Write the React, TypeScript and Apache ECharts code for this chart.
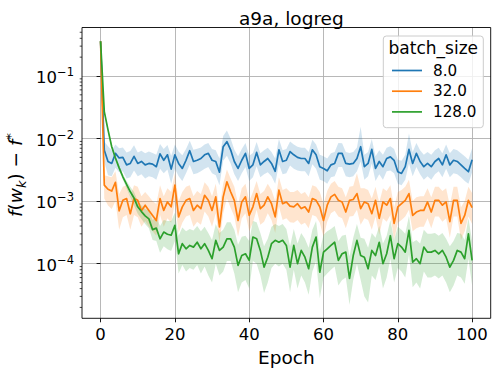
import { useEffect, useRef } from "react";
import * as echarts from "echarts";

const epochs: number[] = Array.from({ length: 101 }, (_, i) => i);

const seriesNames = ["8.0", "32.0", "128.0"];
const xTicks = [0, 20, 40, 60, 80, 100];
const yTicks = [1e-4, 1e-3, 1e-2, 1e-1];
const yMinorTicks = [
  2e-5, 3e-5, 4e-5, 5e-5, 6e-5, 7e-5, 8e-5, 9e-5,
  2e-4, 3e-4, 4e-4, 5e-4, 6e-4, 7e-4, 8e-4, 9e-4,
  2e-3, 3e-3, 4e-3, 5e-3, 6e-3, 7e-3, 8e-3, 9e-3,
  2e-2, 3e-2, 4e-2, 5e-2, 6e-2, 7e-2, 8e-2, 9e-2,
  2e-1, 3e-1, 4e-1, 5e-1,
];

const blue = [
  0.36, 6.5e-3, 4.3e-3, 4.0e-3, 5.8e-3, 4.9e-3, 5.0e-3, 3.8e-3, 4.0e-3, 5.2e-3,
  4.0e-3, 4.3e-3, 3.8e-3, 4.0e-3, 3.9e-3, 3.55e-3, 5.7e-3, 4.5e-3, 5.5e-3, 3.25e-3,
  5.5e-3, 4.0e-3, 3.33e-3, 4.5e-3, 6.4e-3, 4.3e-3, 4.5e-3, 4.8e-3, 5.5e-3, 5.8e-3,
  4.5e-3, 4.3e-3, 2.9e-3, 7.4e-3, 8.9e-3, 6.6e-3, 4.3e-3, 3.33e-3, 4.5e-3, 5.8e-3,
  3.33e-3, 3.8e-3, 6.0e-3, 3.8e-3, 4.3e-3, 4.8e-3, 4.0e-3, 3.0e-3, 6.6e-3, 4.3e-3,
  4.5e-3, 6.2e-3, 5.5e-3, 5.0e-3, 4.8e-3, 4.8e-3, 4.0e-3, 6.6e-3, 5.5e-3, 3.55e-3,
  3.33e-3, 3.05e-3, 3.8e-3, 4.0e-3, 5.8e-3, 5.8e-3, 4.0e-3, 3.9e-3, 4.0e-3, 4.8e-3,
  7.4e-3, 3.55e-3, 4.0e-3, 6.7e-3, 3.33e-3, 4.3e-3, 3.55e-3, 4.8e-3, 5.1e-3, 4.5e-3,
  2.95e-3, 2.77e-3, 3.55e-3, 6.7e-3, 4.0e-3, 5.8e-3, 4.3e-3, 3.55e-3, 4.0e-3, 3.55e-3,
  4.3e-3, 4.8e-3, 3.8e-3, 5.5e-3, 3.8e-3, 4.5e-3, 4.3e-3, 3.8e-3, 3.33e-3, 2.95e-3,
  4.6e-3,
];
const blueHi = [
  0.37, 9.0e-3, 7.5e-3, 6.5e-3, 8.0e-3, 7.0e-3, 7.2e-3, 6.0e-3, 6.3e-3, 7.8e-3,
  6.0e-3, 6.4e-3, 5.8e-3, 6.2e-3, 5.9e-3, 5.5e-3, 8.2e-3, 6.8e-3, 7.9e-3, 5.3e-3,
  8.0e-3, 6.2e-3, 5.4e-3, 6.8e-3, 9.2e-3, 6.6e-3, 6.9e-3, 7.2e-3, 8.0e-3, 8.5e-3,
  6.8e-3, 6.5e-3, 4.8e-3, 1.1e-2, 1.35e-2, 1.0e-2, 6.6e-3, 5.2e-3, 6.8e-3, 8.5e-3,
  5.3e-3, 5.9e-3, 8.8e-3, 5.8e-3, 6.5e-3, 7.1e-3, 6.1e-3, 4.8e-3, 9.8e-3, 6.5e-3,
  6.8e-3, 9.0e-3, 8.0e-3, 7.4e-3, 7.1e-3, 7.1e-3, 6.1e-3, 9.6e-3, 8.0e-3, 5.5e-3,
  5.2e-3, 4.8e-3, 5.8e-3, 6.1e-3, 8.5e-3, 8.4e-3, 6.1e-3, 5.9e-3, 6.1e-3, 7.2e-3,
  1.55e-2, 5.5e-3, 6.1e-3, 9.8e-3, 5.2e-3, 6.5e-3, 5.5e-3, 7.1e-3, 7.5e-3, 6.8e-3,
  4.6e-3, 4.4e-3, 5.5e-3, 1.2e-2, 6.1e-3, 8.5e-3, 6.5e-3, 5.5e-3, 6.1e-3, 5.5e-3,
  6.5e-3, 7.1e-3, 5.8e-3, 8.0e-3, 5.8e-3, 6.8e-3, 6.5e-3, 5.8e-3, 5.2e-3, 4.6e-3,
  7.0e-3,
];
const blueLo = [
  0.35, 4.2e-3, 2.6e-3, 2.5e-3, 3.4e-3, 2.9e-3, 3.0e-3, 2.3e-3, 2.4e-3, 3.1e-3,
  2.5e-3, 2.7e-3, 2.3e-3, 2.5e-3, 2.4e-3, 2.2e-3, 3.3e-3, 2.8e-3, 3.2e-3, 1.9e-3,
  3.3e-3, 2.5e-3, 2.1e-3, 2.8e-3, 3.8e-3, 2.7e-3, 2.8e-3, 3.0e-3, 3.3e-3, 3.5e-3,
  2.8e-3, 2.6e-3, 1.8e-3, 4.4e-3, 5.3e-3, 4.0e-3, 2.7e-3, 2.1e-3, 2.8e-3, 3.5e-3,
  2.1e-3, 2.4e-3, 3.6e-3, 2.4e-3, 2.7e-3, 2.9e-3, 2.5e-3, 1.9e-3, 3.9e-3, 2.7e-3,
  2.8e-3, 3.7e-3, 3.3e-3, 3.1e-3, 3.0e-3, 3.0e-3, 2.5e-3, 3.9e-3, 3.3e-3, 2.2e-3,
  2.1e-3, 1.9e-3, 2.4e-3, 2.5e-3, 3.5e-3, 3.5e-3, 2.5e-3, 2.4e-3, 2.5e-3, 3.0e-3,
  4.3e-3, 2.2e-3, 2.5e-3, 4.0e-3, 2.1e-3, 2.7e-3, 2.2e-3, 3.0e-3, 3.1e-3, 2.8e-3,
  1.9e-3, 1.8e-3, 2.2e-3, 4.0e-3, 2.5e-3, 3.5e-3, 2.7e-3, 2.2e-3, 2.5e-3, 2.2e-3,
  2.7e-3, 3.0e-3, 2.4e-3, 3.3e-3, 2.4e-3, 2.8e-3, 2.7e-3, 2.4e-3, 2.1e-3, 1.9e-3,
  2.9e-3,
];

const orange = [
  0.36, 1.8e-3, 1.55e-3, 1.45e-3, 2.0e-3, 7.0e-4, 1.03e-3, 1.1e-3, 6.3e-4, 1.1e-3,
  1.03e-3, 7.0e-4, 8.6e-4, 7.1e-4, 5.9e-4, 4.9e-4, 1.1e-3, 7.1e-4, 9.7e-4, 8.1e-4,
  1.8e-3, 5.6e-4, 8.1e-4, 1.03e-3, 1.1e-3, 7.1e-4, 8.6e-4, 7.6e-4, 1.24e-3, 1.03e-3,
  7.1e-4, 1.17e-3, 3.86e-4, 1.17e-3, 2.04e-3, 1.41e-3, 1.03e-3, 4.9e-4, 9.7e-4, 1.17e-3,
  5.9e-4, 8.1e-4, 1.32e-3, 7.6e-4, 8.6e-4, 1.17e-3, 9.1e-4, 5.6e-4, 1.5e-3, 9.1e-4,
  9.7e-4, 8.3e-4, 8.1e-4, 9.1e-4, 7.6e-4, 8.1e-4, 6.7e-4, 1.1e-3, 1.03e-3, 8.1e-4,
  4.9e-4, 8.6e-4, 1.17e-3, 1.28e-3, 1.03e-3, 9.7e-4, 6.7e-4, 1.03e-3, 1.06e-3, 1.32e-3,
  7.6e-4, 9.7e-4, 9.1e-4, 6.3e-4, 1.03e-3, 5.3e-4, 9.7e-4, 8.6e-4, 1.1e-3, 4.4e-4,
  8.1e-4, 9.1e-4, 1.03e-3, 1.32e-3, 5.9e-4, 6.7e-4, 7.1e-4, 7.1e-4, 9.7e-4, 6.7e-4,
  1.03e-3, 1.03e-3, 8.6e-4, 9.7e-4, 4.7e-4, 1.03e-3, 1.03e-3, 4.4e-4, 5.9e-4, 1.03e-3,
  7.9e-4,
];
const orangeHi = [
  0.37, 2.6e-3, 2.5e-3, 2.4e-3, 3.0e-3, 1.3e-3, 1.7e-3, 1.8e-3, 1.2e-3, 1.8e-3,
  1.7e-3, 1.2e-3, 1.4e-3, 1.2e-3, 1.0e-3, 9.0e-4, 1.8e-3, 1.2e-3, 1.6e-3, 1.4e-3,
  2.8e-3, 1.0e-3, 1.4e-3, 1.7e-3, 1.8e-3, 1.2e-3, 1.45e-3, 1.3e-3, 2.0e-3, 1.7e-3,
  1.2e-3, 1.9e-3, 7.5e-4, 1.9e-3, 3.2e-3, 2.3e-3, 1.7e-3, 9.0e-4, 1.6e-3, 1.9e-3,
  1.0e-3, 1.4e-3, 2.1e-3, 1.3e-3, 1.45e-3, 1.9e-3, 1.5e-3, 1.0e-3, 2.4e-3, 1.5e-3,
  1.6e-3, 1.4e-3, 1.4e-3, 1.5e-3, 1.3e-3, 1.4e-3, 1.15e-3, 1.8e-3, 1.7e-3, 1.4e-3,
  9.0e-4, 1.45e-3, 1.9e-3, 2.1e-3, 1.7e-3, 1.6e-3, 1.15e-3, 1.7e-3, 1.75e-3, 2.8e-3,
  1.6e-3, 1.6e-3, 1.5e-3, 1.1e-3, 1.7e-3, 9.5e-4, 1.6e-3, 1.45e-3, 1.8e-3, 8.0e-4,
  1.4e-3, 1.5e-3, 1.7e-3, 2.2e-3, 1.0e-3, 1.15e-3, 1.2e-3, 1.2e-3, 1.6e-3, 1.15e-3,
  1.7e-3, 1.7e-3, 1.45e-3, 1.6e-3, 8.5e-4, 1.7e-3, 1.7e-3, 8.0e-4, 1.0e-3, 1.7e-3,
  1.35e-3,
];
const orangeLo = [
  0.35, 1.1e-3, 8.5e-4, 7.5e-4, 1.0e-3, 3.5e-4, 5.5e-4, 6.0e-4, 3.5e-4, 6.0e-4,
  5.5e-4, 3.9e-4, 4.8e-4, 3.9e-4, 3.3e-4, 2.8e-4, 6.0e-4, 3.9e-4, 5.3e-4, 4.5e-4,
  9.5e-4, 3.1e-4, 4.5e-4, 5.7e-4, 6.0e-4, 3.9e-4, 4.7e-4, 4.2e-4, 6.8e-4, 5.7e-4,
  3.9e-4, 6.4e-4, 2.2e-4, 6.4e-4, 1.1e-3, 7.8e-4, 5.7e-4, 2.7e-4, 5.3e-4, 6.4e-4,
  3.3e-4, 4.5e-4, 7.3e-4, 4.2e-4, 4.7e-4, 6.4e-4, 5.0e-4, 3.1e-4, 8.2e-4, 5.0e-4,
  5.3e-4, 4.6e-4, 4.5e-4, 5.0e-4, 4.2e-4, 4.5e-4, 3.7e-4, 6.0e-4, 5.7e-4, 4.5e-4,
  2.7e-4, 4.7e-4, 6.4e-4, 7.0e-4, 5.7e-4, 5.3e-4, 3.7e-4, 5.7e-4, 5.8e-4, 7.3e-4,
  4.2e-4, 5.3e-4, 5.0e-4, 3.5e-4, 5.7e-4, 2.9e-4, 5.3e-4, 4.7e-4, 6.0e-4, 2.4e-4,
  4.5e-4, 5.0e-4, 5.7e-4, 7.3e-4, 3.3e-4, 3.7e-4, 3.9e-4, 3.9e-4, 5.3e-4, 3.7e-4,
  5.7e-4, 5.7e-4, 4.7e-4, 5.3e-4, 2.6e-4, 5.7e-4, 5.7e-4, 2.4e-4, 3.3e-4, 5.7e-4,
  4.3e-4,
];

const green = [
  0.36, 2.7e-2, 1.38e-2, 7.4e-3, 4.9e-3, 3.4e-3, 2.45e-3, 1.86e-3, 1.41e-3, 1.12e-3,
  8.1e-4, 6.8e-4, 5.8e-4, 5.2e-4, 3.5e-4, 3.7e-4, 2.5e-4, 3.2e-4, 2.95e-4, 2.85e-4,
  4.1e-4, 1.44e-4, 2.09e-4, 1.73e-4, 1.96e-4, 1.84e-4, 2.2e-4, 1.73e-4, 2.09e-4, 1.63e-4,
  1.2e-4, 2.36e-4, 1.63e-4, 1.84e-4, 2.5e-4, 2.5e-4, 1.84e-4, 9.4e-5, 1.35e-4, 1.44e-4,
  1.13e-4, 2.67e-4, 2.5e-4, 1.63e-4, 8.8e-5, 1.27e-4, 2.09e-4, 2.36e-4, 2.2e-4, 2.36e-4,
  1.96e-4, 8.8e-5, 1.96e-4, 1.0e-4, 1.63e-4, 1.27e-4, 8.3e-5, 1.84e-4, 2.67e-4, 7.3e-5,
  1.53e-4, 1.73e-4, 1.96e-4, 2.2e-4, 1.13e-4, 1.44e-4, 1.53e-4, 5.8e-5, 1.35e-4, 2.36e-4,
  1.35e-4, 1.27e-4, 8.3e-5, 1.63e-4, 1.35e-4, 2.2e-4, 1.0e-4, 1.44e-4, 2.8e-4, 1.2e-4,
  2.09e-4, 1.84e-4, 1.53e-4, 3.4e-4, 1.06e-4, 1.2e-4, 1.0e-4, 1.84e-4, 1.53e-4, 1.53e-4,
  1.63e-4, 1.44e-4, 1.63e-4, 1.27e-4, 8.8e-5, 1.13e-4, 1.63e-4, 1.53e-4, 1.2e-4, 3.0e-4,
  1.13e-4,
];
const greenHi = [
  0.37, 2.9e-2, 1.5e-2, 8.0e-3, 5.3e-3, 3.7e-3, 2.7e-3, 2.1e-3, 1.7e-3, 1.4e-3,
  1.0e-3, 8.5e-4, 7.5e-4, 7.0e-4, 5.0e-4, 5.5e-4, 4.0e-4, 5.0e-4, 4.8e-4, 4.8e-4,
  6.5e-4, 2.8e-4, 3.8e-4, 3.3e-4, 3.6e-4, 3.4e-4, 4.0e-4, 3.3e-4, 3.9e-4, 3.1e-4,
  2.4e-4, 4.3e-4, 3.1e-4, 3.5e-4, 4.6e-4, 4.6e-4, 3.5e-4, 2.0e-4, 2.7e-4, 2.8e-4,
  2.3e-4, 4.8e-4, 4.6e-4, 3.1e-4, 1.9e-4, 2.5e-4, 3.9e-4, 4.3e-4, 4.0e-4, 4.3e-4,
  3.6e-4, 1.9e-4, 3.6e-4, 2.1e-4, 3.1e-4, 2.5e-4, 1.8e-4, 3.5e-4, 4.8e-4, 1.6e-4,
  2.9e-4, 3.3e-4, 3.6e-4, 4.0e-4, 2.3e-4, 2.8e-4, 2.9e-4, 1.3e-4, 2.6e-4, 4.3e-4,
  2.6e-4, 2.5e-4, 1.8e-4, 3.1e-4, 2.6e-4, 4.0e-4, 2.1e-4, 2.8e-4, 5.0e-4, 2.4e-4,
  3.9e-4, 3.5e-4, 3.0e-4, 5.8e-4, 2.2e-4, 2.4e-4, 2.1e-4, 3.5e-4, 3.0e-4, 3.0e-4,
  3.1e-4, 2.8e-4, 3.1e-4, 2.5e-4, 1.9e-4, 2.3e-4, 3.1e-4, 3.0e-4, 2.4e-4, 5.3e-4,
  2.3e-4,
];
const greenLo = [
  0.35, 2.5e-2, 1.27e-2, 6.8e-3, 4.5e-3, 3.1e-3, 2.2e-3, 1.6e-3, 1.15e-3, 8.5e-4,
  6.3e-4, 5.2e-4, 4.3e-4, 3.7e-4, 2.4e-4, 2.3e-4, 1.5e-4, 1.9e-4, 1.7e-4, 1.6e-4,
  2.3e-4, 7.0e-5, 9.5e-5, 7.5e-5, 8.5e-5, 8.0e-5, 9.5e-5, 7.0e-5, 9.0e-5, 6.5e-5,
  5.0e-5, 1.0e-4, 6.5e-5, 7.5e-5, 1.1e-4, 1.1e-4, 7.0e-5, 3.5e-5, 5.0e-5, 5.5e-5,
  4.0e-5, 1.1e-4, 1.0e-4, 6.5e-5, 3.4e-5, 5.0e-5, 8.5e-5, 1.0e-4, 9.0e-5, 1.0e-4,
  8.0e-5, 3.5e-5, 8.0e-5, 4.0e-5, 6.5e-5, 5.0e-5, 3.2e-5, 7.5e-5, 1.1e-4, 2.8e-5,
  6.0e-5, 7.0e-5, 8.0e-5, 9.0e-5, 4.5e-5, 5.5e-5, 6.0e-5, 2.2e-5, 5.5e-5, 1.0e-4,
  5.5e-5, 3.0e-5, 2.4e-5, 6.5e-5, 5.5e-5, 9.0e-5, 4.0e-5, 6.0e-5, 1.2e-4, 5.0e-5,
  8.5e-5, 7.5e-5, 6.0e-5, 1.4e-4, 4.2e-5, 5.0e-5, 4.0e-5, 7.5e-5, 6.0e-5, 6.0e-5,
  6.5e-5, 5.8e-5, 6.5e-5, 5.0e-5, 3.5e-5, 4.5e-5, 6.5e-5, 6.0e-5, 4.8e-5, 1.2e-4,
  4.5e-5,
];

const FONT = "DejaVu Sans";
const COLORS = ["#1f77b4", "#ff7f0e", "#2ca02c"];
const BANDS = ["rgba(31,119,180,0.2)", "rgba(255,127,14,0.2)", "rgba(44,160,44,0.2)"];
const GRID = { left: 82, top: 27.5, right: 7.3, bottom: 55.7 };
const W = 498;
const H = 374;
const X_MIN = -5;
const X_MAX = 105;
const Y_MIN = 1.34e-5;
const Y_MAX = 0.5957;

function bandSeries(lo: number[], hi: number[], fill: string) {
  return {
    type: "custom",
    silent: true,
    z: 1,
    clip: true,
    data: epochs.map((e, i) => [e, lo[i], hi[i]]),
    encode: { x: 0, y: [1, 2] },
    renderItem: (params: any, api: any) => {
      if (params.dataIndex !== 0) return null;
      const pts: number[][] = [];
      for (let i = 0; i < epochs.length; i++) pts.push(api.coord([epochs[i], hi[i]]));
      for (let i = epochs.length - 1; i >= 0; i--) pts.push(api.coord([epochs[i], lo[i]]));
      return { type: "polygon", shape: { points: pts }, style: { fill, stroke: "none" } };
    },
  };
}

function lineSeries(name: string, vals: number[], color: string) {
  return {
    type: "line",
    name,
    z: 3,
    data: epochs.map((e, i) => [e, vals[i]]),
    symbol: "none",
    showSymbol: false,
    lineStyle: { color, width: 1.7, join: "round" },
    itemStyle: { color },
  };
}

export default function App() {
  const ref = useRef<HTMLDivElement>(null);
  useEffect(() => {
    const chart = echarts.init(ref.current!, null, { renderer: "svg" });
    const plotW = W - GRID.left - GRID.right;
    const plotH = H - GRID.top - GRID.bottom;
    const option: any = {
      animation: false,
      backgroundColor: "#ffffff",
      title: {
        text: "a9a, logreg",
        left: GRID.left + plotW / 2,
        top: 4,
        textAlign: "center",
        textStyle: { fontFamily: FONT, fontSize: 18.5, fontWeight: "normal", color: "#000" },
      },
      grid: { left: GRID.left, top: GRID.top, right: GRID.right, bottom: GRID.bottom, containLabel: false },
      legend: {
        data: seriesNames,
        orient: "vertical",
        left: 392,
        top: 63,
        padding: 0,
        itemWidth: 30,
        itemHeight: 1.7,
        itemGap: 5.7,
        icon: "rect",
        z: 20,
        textStyle: { fontFamily: FONT, fontSize: 15.2, color: "#000", padding: [0, 0, 0, 6] },
      },
      xAxis: {
        type: "value",
        min: X_MIN,
        max: X_MAX,
        name: "Epoch",
        nameLocation: "middle",
        nameGap: 28,
        nameTextStyle: { fontFamily: FONT, fontSize: 18.5, color: "#000" },
        axisLine: { show: false },
        axisTick: { show: true, length: 4, customValues: xTicks, lineStyle: { color: "#000", width: 0.9 } },
        axisLabel: { customValues: xTicks, margin: 8, fontFamily: FONT, fontSize: 16.5, color: "#000" },
        splitLine: { show: true, lineStyle: { color: "#b0b0b0", width: 0.9 } },
      },
      yAxis: {
        type: "log",
        logBase: 10,
        min: Y_MIN,
        max: Y_MAX,
        axisLine: { show: false },
        axisTick: { show: true, length: 4, customValues: yTicks, lineStyle: { color: "#000", width: 0.9 } },
        axisLabel: {
          customValues: yTicks,
          margin: 8,
          fontFamily: FONT,
          color: "#000",
          formatter: (v: number) => `{b|10}{s|\u2212${-Math.round(Math.log10(v))}}`,
          rich: {
            b: { fontFamily: FONT, fontSize: 16.5, color: "#000", lineHeight: 20, verticalAlign: "bottom" },
            s: { fontFamily: FONT, fontSize: 11.5, color: "#000", lineHeight: 20, verticalAlign: "top" },
          },
        },
        splitLine: { show: true, lineStyle: { color: "#b0b0b0", width: 0.9 } },
      },
      graphic: [
        {
          type: "rect",
          z: 5,
          silent: true,
          shape: { x: GRID.left, y: GRID.top, width: plotW, height: plotH },
          style: { fill: "none", stroke: "#000", lineWidth: 0.9 },
        },
        {
          type: "rect",
          z: 10,
          silent: true,
          shape: { x: 383.3, y: 36, width: 100, height: 91.7, r: 3 },
          style: { fill: "rgba(255,255,255,0.8)", stroke: "#cccccc", lineWidth: 1 },
        },
        {
          type: "text",
          z: 21,
          silent: true,
          x: 433.3,
          y: 47.5,
          style: {
            text: "batch_size",
            fontFamily: FONT,
            fontSize: 17,
            fill: "#000",
            align: "center",
            verticalAlign: "middle",
          },
        },
        {
          type: "text",
          z: 21,
          silent: true,
          x: 15.5,
          y: 175,
          rotation: Math.PI / 2,
          style: {
            text: "{i|f}{n|(}{i|w}{sub|k}{n|) \u2212 }{i|f}{sup|*}",
            fontFamily: FONT,
            fontSize: 18.5,
            fill: "#000",
            align: "center",
            verticalAlign: "middle",
            rich: {
              i: { fontFamily: FONT, fontSize: 18.5, fontStyle: "italic", fill: "#000", lineHeight: 24 },
              n: { fontFamily: FONT, fontSize: 18.5, fill: "#000", lineHeight: 24 },
              sub: { fontFamily: FONT, fontSize: 13, fontStyle: "italic", fill: "#000", lineHeight: 24, verticalAlign: "bottom" },
              sup: { fontFamily: FONT, fontSize: 13, fill: "#000", lineHeight: 24, verticalAlign: "top" },
            },
          },
        },
      ],
      series: [
        bandSeries(blueLo, blueHi, BANDS[0]),
        bandSeries(orangeLo, orangeHi, BANDS[1]),
        bandSeries(greenLo, greenHi, BANDS[2]),
        lineSeries(seriesNames[0], blue, COLORS[0]),
        lineSeries(seriesNames[1], orange, COLORS[1]),
        lineSeries(seriesNames[2], green, COLORS[2]),
        {
          type: "custom",
          silent: true,
          clip: false,
          z: 4,
          data: yMinorTicks.map((v) => [X_MIN, v]),
          renderItem: (params: any, api: any) => {
            const p = api.coord([api.value(0), api.value(1)]);
            return {
              type: "line",
              shape: { x1: p[0] - 2.3, y1: p[1], x2: p[0], y2: p[1] },
              style: { stroke: "#000", lineWidth: 0.7 },
            };
          },
        },
      ],
    };
    chart.setOption(option);
    return () => chart.dispose();
  }, []);
  return <div ref={ref} style={{ position: "absolute", left: 0, top: 0, width: W, height: H }} />;
}
